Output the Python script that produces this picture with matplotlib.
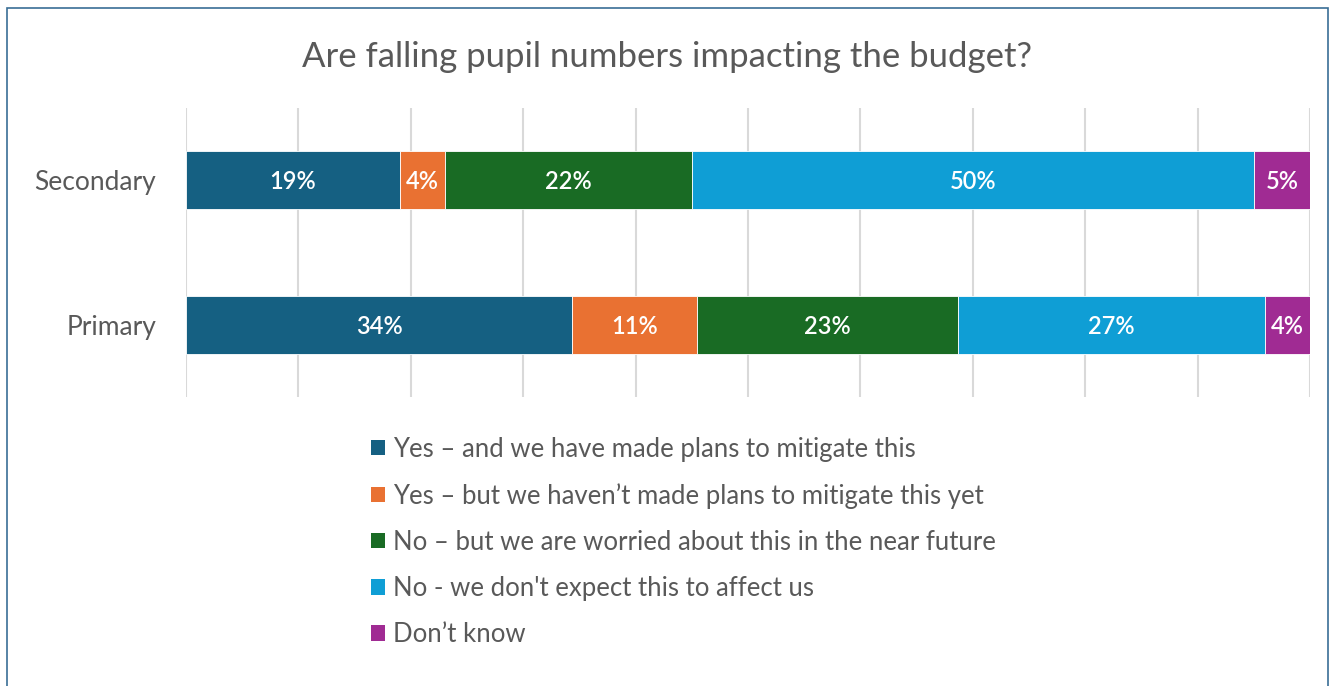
import matplotlib
matplotlib.use("Agg")
import matplotlib.pyplot as plt
from matplotlib.patches import Rectangle, Patch
import numpy as np

categories = ["Secondary", "Primary"]
series_names = [
    "Yes \u2013 and we have made plans to mitigate this",
    "Yes \u2013 but we haven\u2019t made plans to mitigate this yet",
    "No \u2013 but we are worried about this in the near future",
    "No - we don't expect this to affect us",
    "Don\u2019t know",
]
values = {
    "Secondary": [19, 4, 22, 50, 5],
    "Primary": [34, 11, 23, 27, 4],
}
colors = ["#156082", "#E97132", "#196B24", "#0F9ED5", "#A02B93"]

W, H = 1335, 686
fig = plt.figure(figsize=(W / 100, H / 100), dpi=100)
fig.patch.set_facecolor("white")

# outer frame of the chart
fig.add_artist(Rectangle((7 / W, -0.05), (1328 - 7) / W, 1.05 - 8 / H,
                         transform=fig.transFigure, fill=False,
                         edgecolor="#3A6E96", linewidth=1.2))

ax = fig.add_axes([186 / W, 1 - 397 / H, (1310 - 186) / W, (397 - 108) / H])
ypos = np.arange(len(categories))

for ci, cat in enumerate(categories):
    vals = np.array(values[cat], dtype=float)
    shares = vals / vals.sum() * 100  # 100% stacked
    left = 0.0
    for si, (v, s) in enumerate(zip(vals, shares)):
        ax.barh(ypos[ci], s, left=left, height=0.4, color=colors[si],
                edgecolor="white", linewidth=0.6, zorder=3)
        ax.text(left + s / 2, ypos[ci] + 0.01, f"{int(v)}%", ha="center",
                va="center", color="white", fontsize=17, fontfamily="Lato",
                fontweight="semibold", zorder=4)
        left += s

ax.set_xlim(0, 100)
ax.set_ylim(1.5, -0.5)
ax.set_xticks(np.arange(0, 101, 10))
ax.set_xticklabels([])
ax.tick_params(axis="x", length=0)
ax.tick_params(axis="y", length=0, pad=21.5)
ax.set_yticks(ypos)
ax.set_yticklabels(categories, fontsize=19, color="#595959", fontfamily="Lato")
ax.grid(axis="x", color="#D9D9D9", linewidth=1.5, zorder=0)
for sp in ax.spines.values():
    sp.set_visible(False)

fig.text(0.5, 1 - 57 / H, "Are falling pupil numbers impacting the budget?",
         ha="center", va="center", fontsize=25, color="#595959", fontfamily="Lato")

handles = [Patch(facecolor=c, edgecolor="none") for c in colors]
leg = fig.legend(handles, series_names, loc="upper left",
                 bbox_to_anchor=(358 / W, 1 - 424 / H), frameon=False,
                 prop={"family": "Lato", "size": 18.5}, labelcolor="#595959",
                 handlelength=0.55, handleheight=0.55, handletextpad=0.3,
                 labelspacing=0.82, borderpad=0)

fig.savefig("out.png", dpi=100, facecolor="white")
